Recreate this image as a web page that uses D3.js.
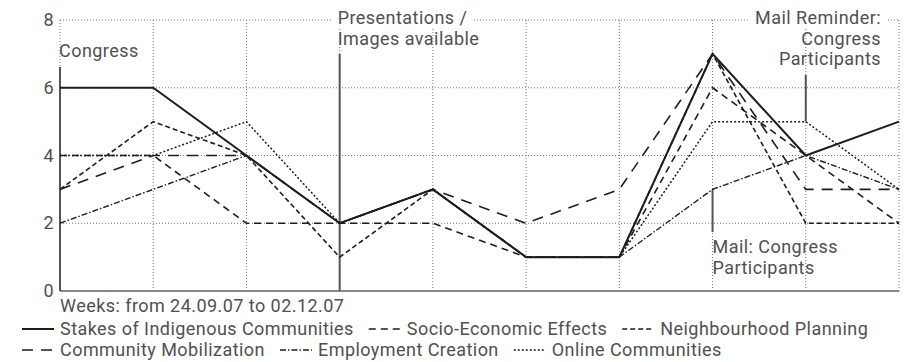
<!DOCTYPE html>
<html>
<head>
<meta charset="utf-8">
<script src="https://cdn.jsdelivr.net/npm/d3@7"></script>
<style>
  body { margin: 0; background: #fff; }
  text { font-family: Roboto, "Liberation Sans", sans-serif; fill: #505050; letter-spacing: 0.45px; }
</style>
</head>
<body>
<div id="chart"></div>
<script>
// weeks, from 24.09.07 to 02.12.07
const weeks = ["24.09.07", "01.10.07", "08.10.07", "15.10.07", "22.10.07",
  "29.10.07", "05.11.07", "12.11.07", "19.11.07", "26.11.07"]

const stakes        = [6, 6, 4, 2, 3, 1, 1, 7, 4, 5]
const socioEconomic = [4, 4, 2, 2, 2, 1, 1, 6, 4, 2]
const neighbourhood = [3, 5, 4, 1, 3, 1, 1, 7, 2, 2]
const community     = [3, 4, 4, 2, 3, 2, 3, 7, 3, 3]
const employment    = [2, 3, 4, 2, 3, 1, 1, 3, 4, 3]
const online        = [4, 4, 5, 2, 3, 1, 1, 5, 5, 3]

const seriesNames = ["Stakes of Indigenous Communities", "Socio-Economic Effects",
  "Neighbourhood Planning", "Community Mobilization", "Employment Creation", "Online Communities"]
const seriesValues = [stakes, socioEconomic, neighbourhood, community, employment, online]

const yTicks = [0, 2, 4, 6, 8]
const xTitle = "Weeks: from 24.09.07 to 02.12.07"

const congressNote = ["Congress"]
const presentationNote = ["Presentations /", "Images available"]
const reminderNote = ["Mail Reminder:", "Congress", "Participants"]
const mailNote = ["Mail: Congress", "Participants"]

const dash = ["none", "7,5", "5,3", "11,8", "6,2,1.5,2", "2,2"]
const widths = [2, 1.6, 1.6, 1.6, 1.4, 1.5]

const dimensions = {
  width: 908,
  height: 362,
  margin: { top: 20, right: 9, bottom: 71, left: 60 },
}
dimensions.boundedWidth = dimensions.width - dimensions.margin.left - dimensions.margin.right
dimensions.boundedHeight = dimensions.height - dimensions.margin.top - dimensions.margin.bottom

const svg = d3.select("#chart").append("svg")
  .attr("width", dimensions.width)
  .attr("height", dimensions.height)
  .style("font-size", "18px")

const xScale = d3.scalePoint()
  .domain(weeks)
  .range([dimensions.margin.left, dimensions.width - dimensions.margin.right])
const yScale = d3.scaleLinear()
  .domain([0, 8])
  .range([dimensions.height - dimensions.margin.bottom, dimensions.margin.top])

const x0 = xScale.range()[0], x1 = xScale.range()[1]
const yBottom = yScale(0), yTop = yScale(8)

// grid
const grid = svg.append("g")
  .attr("stroke", "#777")
  .attr("stroke-width", 1)
  .attr("stroke-dasharray", "1,2")
grid.selectAll(".h").data(yTicks.filter(d => d > 0)).join("line")
  .attr("x1", x0).attr("x2", x1)
  .attr("y1", d => yScale(d)).attr("y2", d => yScale(d))
grid.selectAll(".v").data(weeks).join("line")
  .attr("x1", d => xScale(d)).attr("x2", d => xScale(d))
  .attr("y1", yTop).attr("y2", yBottom)

// bottom axis line
svg.append("line")
  .attr("x1", x0).attr("x2", x1)
  .attr("y1", yBottom).attr("y2", yBottom)
  .attr("stroke", "#888").attr("stroke-width", 2)

// y tick labels
svg.selectAll(".tick").data(yTicks).join("text")
  .attr("x", x0 - 6)
  .attr("y", d => yScale(d) + 6)
  .attr("text-anchor", "end")
  .text(d => d)

// annotation markers
const markers = svg.append("g").attr("stroke", "#555").attr("stroke-width", 2)
markers.append("line")
  .attr("x1", xScale(weeks[0])).attr("x2", xScale(weeks[0]))
  .attr("y1", 67).attr("y2", yBottom)
markers.append("line")
  .attr("x1", xScale(weeks[3])).attr("x2", xScale(weeks[3]))
  .attr("y1", 54).attr("y2", yBottom)
markers.append("line")
  .attr("x1", xScale(weeks[8])).attr("x2", xScale(weeks[8]))
  .attr("y1", 75).attr("y2", yScale(online[8]))
markers.append("line")
  .attr("x1", xScale(weeks[7])).attr("x2", xScale(weeks[7]))
  .attr("y1", yScale(employment[7])).attr("y2", 232)

// lines
const line = d3.line()
  .x((d, i) => xScale(weeks[i]))
  .y(d => yScale(d))
svg.append("g").selectAll("path").data(seriesValues).join("path")
  .attr("fill", "none")
  .attr("stroke", "#1e1e1e")
  .attr("stroke-width", (d, i) => widths[i])
  .attr("stroke-dasharray", (d, i) => dash[i])
  .attr("stroke-linejoin", "miter")
  .attr("d", line)

// annotation labels with white backing
function note(lines, x, y, anchor, backFirst) {
  const g = svg.append("g")
  const t = g.append("text").attr("text-anchor", anchor)
  lines.forEach((l, i) => {
    t.append("tspan").attr("x", x).attr("y", y + i * 20.5).text(l)
  })
  if (backFirst) {
    const b = t.select("tspan").node().getBBox()
    g.insert("rect", "text")
      .attr("x", b.x - 5).attr("y", b.y).attr("width", b.width + 10).attr("height", b.height)
      .attr("fill", "#fff")
  }
}
note(congressNote, xScale(weeks[0]) - 1, 57, "start", false)
note(presentationNote, xScale(weeks[3]) - 2, 24, "start", true)
note(reminderNote, 881, 24, "end", true)
note(mailNote, xScale(weeks[7]), 253, "start", false)

// x title
svg.append("text")
  .attr("x", x0)
  .attr("y", 312)
  .text(xTitle)

// legend
const rows = [[0, 1, 2], [3, 4, 5]]
rows.forEach((row, r) => {
  let cx = 22
  const y = 335 + r * 21
  row.forEach(i => {
    svg.append("line")
      .attr("x1", cx).attr("x2", cx + 32)
      .attr("y1", y - 6).attr("y2", y - 6)
      .attr("stroke", "#1e1e1e")
      .attr("stroke-width", widths[i])
      .attr("stroke-dasharray", dash[i])
    const t = svg.append("text")
      .attr("x", cx + 38).attr("y", y)
      .text(seriesNames[i])
    cx += 38 + t.node().getComputedTextLength() + 15
  })
})
</script>
</body>
</html>
